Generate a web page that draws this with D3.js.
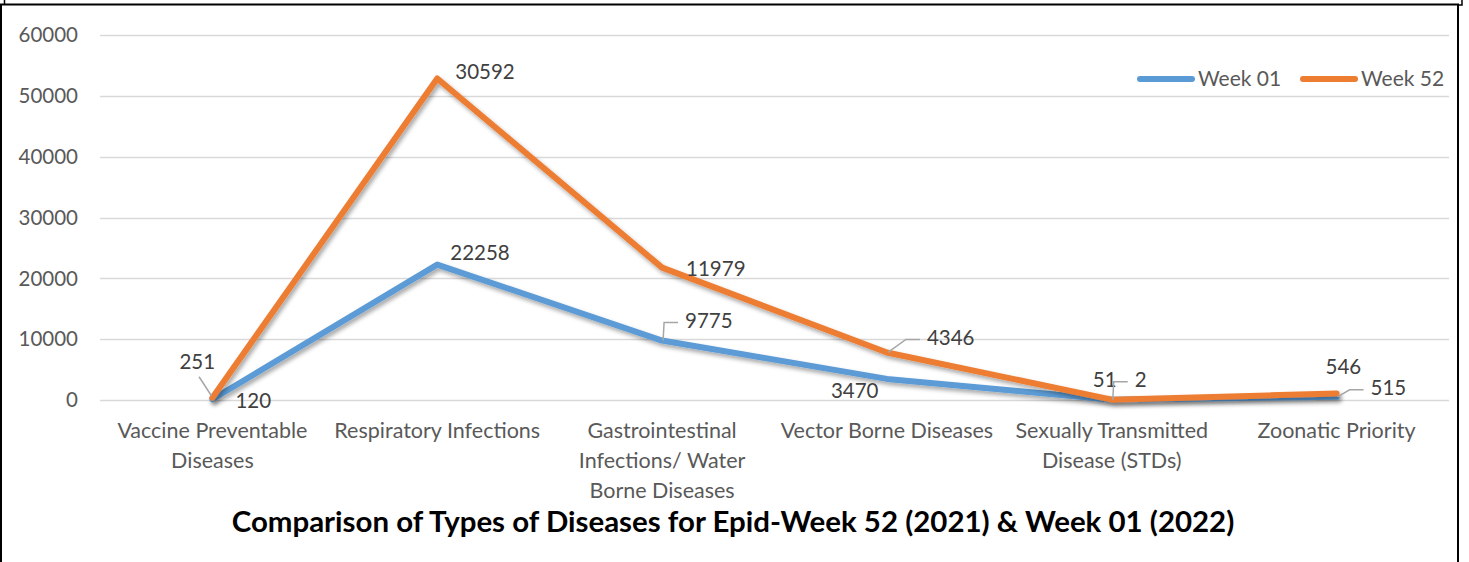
<!DOCTYPE html>
<html>
<head>
<meta charset="utf-8">
<script src="https://cdn.jsdelivr.net/npm/d3@7"></script>
<style>
  body { margin: 0; background: #fff; }
  svg text { font-family: Lato, "Open Sans", sans-serif; }
</style>
</head>
<body>
<div id="chart"></div>
<script>
// categories and the two series (values as printed in the data labels)
const categories = [
  ['Vaccine Preventable', 'Diseases'],
  ['Respiratory Infections'],
  ['Gastrointestinal', 'Infections/ Water', 'Borne Diseases'],
  ['Vector Borne Diseases'],
  ['Sexually Transmitted', 'Disease (STDs)'],
  ['Zoonatic Priority']
];
const week01 = [120, 22258, 9775, 3470, 51, 515];
const week52 = [251, 30592, 11979, 4346, 2, 546];
const seriesNames = ['Week 01', 'Week 52'];
const yTicks = [0, 10000, 20000, 30000, 40000, 50000, 60000];

// label placement: [dx, dy, leader] relative to the point
const labelPos01 = [[23, 2, null], [13, -12, null], [23, -20, 'elbow'], [-56, 12, null], [-19, -20, null], [34, -9, 'elbow']];
const labelPos52 = [[-33, -36, 'straight'], [18, -7, null], [24, 1, null], [40, -15, 'elbow'], [23, -20, 'elbow'], [-11, -27, null]];

const width = 1469, height = 562;
const colors = ['#5B9BD5', '#ED7D31'];

const svg = d3.select('#chart').append('svg')
  .attr('width', width)
  .attr('height', height);

// drop shadow for lines
const defs = svg.append('defs');
const f = defs.append('filter').attr('id', 'shadow')
  .attr('x', '-10%').attr('y', '-10%').attr('width', '120%').attr('height', '130%');
f.append('feDropShadow')
  .attr('dx', 2).attr('dy', 3).attr('stdDeviation', 2)
  .attr('flood-color', '#000').attr('flood-opacity', 0.35);

// frame
svg.append('path')
  .attr('d', 'M1,562 V4.5 H1458 V562')
  .attr('fill', 'none').attr('stroke', '#000').attr('stroke-width', 2);
svg.append('path')
  .attr('d', 'M4.5,0 V4 M1462,0 V5 H1458')
  .attr('fill', 'none').attr('stroke', '#000').attr('stroke-width', 1.5);

const x = d3.scalePoint()
  .domain(d3.range(categories.length))
  .range([100, 1449])
  .padding(0.5);

const y = d3.scaleLinear().domain([0, 60000]).range([400, 35]);

// gridlines
svg.append('g')
  .selectAll('line')
  .data(yTicks)
  .join('line')
  .attr('x1', 100).attr('x2', 1449)
  .attr('y1', d => Math.round(y(d)) + 0.5)
  .attr('y2', d => Math.round(y(d)) + 0.5)
  .attr('stroke', '#d9d9d9').attr('stroke-width', 1.3);

// y axis labels
svg.append('g')
  .selectAll('text')
  .data(yTicks)
  .join('text')
  .attr('x', 78)
  .attr('y', d => y(d))
  .attr('dy', '0.35em')
  .attr('text-anchor', 'end')
  .attr('font-size', 20.5)
  .attr('fill', '#595959')
  .text(d => d);

// category labels
const catG = svg.append('g');
categories.forEach((lines, i) => {
  const t = catG.append('text')
    .attr('x', x(i))
    .attr('y', 438)
    .attr('text-anchor', 'middle')
    .attr('font-size', 21.5)
    .attr('fill', '#595959');
  lines.forEach((l, j) => {
    t.append('tspan').attr('x', x(i)).attr('dy', j === 0 ? 0 : 30).text(l);
  });
});

// stacked values for week 52
const stacked52 = week52.map((v, i) => v + week01[i]);
const plotted = [week01, stacked52];
const raw = [week01, week52];
const labelPos = [labelPos01, labelPos52];

const line = d3.line()
  .x((d, i) => x(i))
  .y(d => y(d));

plotted.forEach((s, k) => {
  svg.append('path')
    .datum(s)
    .attr('fill', 'none')
    .attr('stroke', colors[k])
    .attr('stroke-width', 6)
    .attr('stroke-linejoin', 'round')
    .attr('stroke-linecap', 'round')
    .attr('filter', 'url(#shadow)')
    .attr('d', line);
});

// data labels
plotted.forEach((s, k) => {
  s.forEach((v, i) => {
    const px = x(i), py = y(v);
    const [dx, dy, leader] = labelPos[k][i];
    const lx = px + dx, ly = py + dy;
    const t = svg.append('text')
      .attr('x', lx)
      .attr('y', ly)
      .attr('dy', '0.35em')
      .attr('font-size', 20.5)
      .attr('fill', '#404040')
      .text(raw[k][i]);
    if (leader === 'elbow') {
      svg.append('path')
        .attr('d', `M${px + 1},${py} L${lx - 21},${ly + 2} L${lx - 7},${ly + 2}`)
        .attr('fill', 'none').attr('stroke', '#a6a6a6').attr('stroke-width', 1.5);
    } else if (leader === 'straight') {
      const w = t.node().getComputedTextLength();
      svg.append('path')
        .attr('d', `M${lx + w * 0.55},${ly + 15} L${px - 1},${py - 2}`)
        .attr('fill', 'none').attr('stroke', '#a6a6a6').attr('stroke-width', 1.5);
    }
  });
});

// legend
const legendX = [1137, 1300];
seriesNames.forEach((name, k) => {
  svg.append('line')
    .attr('x1', legendX[k] + 3).attr('x2', legendX[k] + 55)
    .attr('y1', 79).attr('y2', 79)
    .attr('stroke', colors[k]).attr('stroke-width', 6)
    .attr('stroke-linecap', 'round');
  svg.append('text')
    .attr('x', legendX[k] + 61)
    .attr('y', 79)
    .attr('dy', '0.35em')
    .attr('font-size', 21)
    .attr('fill', '#595959')
    .text(name);
});

// title, sized to the reference width
const title = svg.append('text')
  .attr('x', 733)
  .attr('y', 522)
  .attr('dy', '0.35em')
  .attr('text-anchor', 'middle')
  .attr('font-size', 24)
  .attr('font-weight', 'bold')
  .attr('fill', '#000')
  .text('Comparison of Types of Diseases for Epid-Week 52 (2021) & Week 01 (2022)');
const tw = title.node().getComputedTextLength();
title.attr('font-size', 24 * 1003 / tw);
</script>
</body>
</html>
